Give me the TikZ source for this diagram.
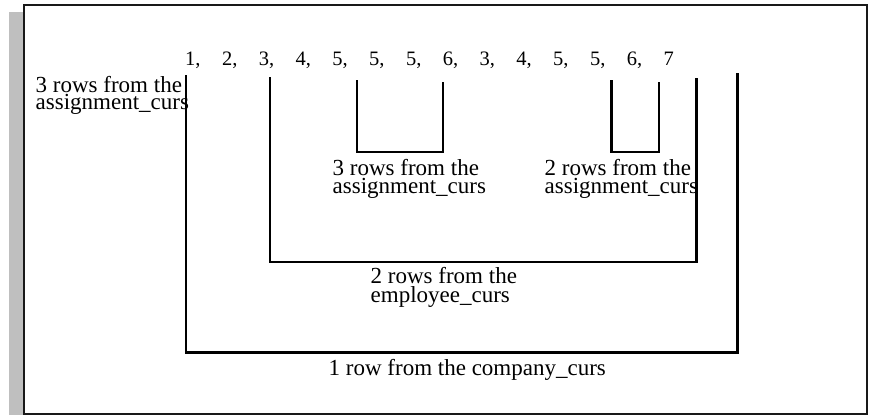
\documentclass[tikz,border=0pt]{standalone}
\usepackage{fontspec}
\setmainfont{Liberation Serif}
\begin{document}
\begin{tikzpicture}[x=1pt,y=-1pt,
  frameline/.style={line width=2.4pt,draw=black!90},
  bracket/.style={line width=2.2pt,line join=miter},
  numtext/.style={anchor=base west,inner sep=0pt,font=\fontsize{20.5}{20}\selectfont},
  labeltext/.style={anchor=base west,inner sep=0pt,align=left,font=\fontsize{23}{#1}\selectfont},
  labeltext/.default=18.5
]
\useasboundingbox (0,0) rectangle (873,415);

% shaded strip and outer frame
\fill[black!25] (9,12) rectangle (23,415);
\draw[frameline] (24,415.5) -- (24,5) -- (867,5) -- (867,415.5);
\draw[frameline] (24,414) -- (867,414);

% sequence of fetched rows
\foreach \v [count=\i from 0] in {1,2,3,4,5,5,5,6,3,4,5,5,6} {
  \node[numtext] (n\i) at (185+36.8*\i,65) {\v,};
}
\node[numtext] (n13) at (185+36.8*13,65) {7};

% bracket ends
\coordinate (ca) at (186,75);   \coordinate (cb) at (737.5,73);   \coordinate (cy) at (0,352.5);
\coordinate (ea) at (270,77);   \coordinate (eb) at (696.5,78);   \coordinate (ey) at (0,262);
\coordinate (aa) at (357,80);   \coordinate (ab) at (443,82);     \coordinate (ay) at (0,152);
\coordinate (ba) at (611.5,80); \coordinate (bb) at (659,82);

% company, employee and assignment brackets
\draw[bracket] (ca) -- (ca |- cy) -- (cb |- cy) -- (cb);
\draw[bracket] (ea) -- (ea |- ey) -- (eb |- ey) -- (eb);
\draw[bracket] (aa) -- (aa |- ay) -- (ab |- ay) -- (ab);
\draw[bracket] (ba) -- (ba |- ay) -- (bb |- ay) -- (bb);

% captions (placed by the baseline of their last line)
\node[labeltext=17.5] (l0) at (35.5,109.5) {3 rows from the\\assignment\_curs};
\node[labeltext] (l1) at (332.5,193.5) {3 rows from the\\assignment\_curs};
\node[labeltext] (l2) at (544.5,193.5) {2 rows from the\\assignment\_curs};
\node[labeltext] (l3) at (370.5,302) {2 rows from the\\employee\_curs};
\node[labeltext] (l4) at (328.5,375) {1 row from the company\_curs};
\end{tikzpicture}
\end{document}
